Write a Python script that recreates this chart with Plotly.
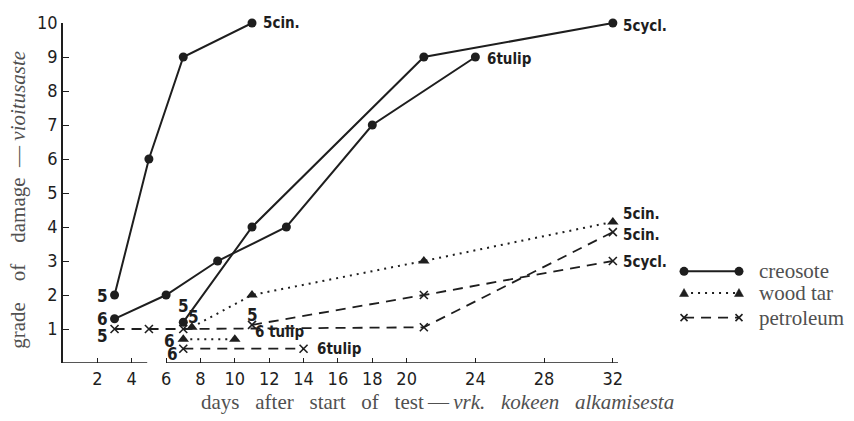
import plotly.graph_objects as go

# Days after start of test and grade of damage, per preservative and test series
creo_cin_days = [3, 5, 7, 11]
creo_cin_grade = [2, 6, 9, 10]
creo_tulip_days = [3, 6, 9, 13, 18, 24]
creo_tulip_grade = [1.3, 2, 3, 4, 7, 9]
creo_cycl_days = [7, 11, 21, 32]
creo_cycl_grade = [1.2, 4, 9, 10]

tar_cin_days = [7.5, 11, 21, 32]
tar_cin_grade = [1.05, 2, 3, 4.15]
tar_tulip_days = [7, 10]
tar_tulip_grade = [0.7, 0.7]

pet_cin_days = [3, 5, 7, 21, 32]
pet_cin_grade = [1, 1, 1, 1.05, 3.85]
pet_cycl_days = [11, 21, 32]
pet_cycl_grade = [1.12, 2, 3]
pet_tulip_days = [7, 14]
pet_tulip_grade = [0.42, 0.42]

x_ticks = [2, 4, 6, 8, 10, 12, 14, 16, 18, 20, 24, 28, 32]
y_ticks = [1, 2, 3, 4, 5, 6, 7, 8, 9, 10]
legend_names = ["creosote", "wood tar", "petroleum"]

X_MAX = 32.3
Y_MAX = 10

INK = "#1e1e1e"
TITLE_INK = "#505050"
HAND = "DejaVu Sans Condensed, DejaVu Sans, sans-serif"
SERIF = "Liberation Serif, serif"

styles = {
    "creosote": dict(line=dict(color=INK, width=2),
                     marker=dict(symbol="circle", size=9, color=INK)),
    "wood tar": dict(line=dict(color=INK, width=2, dash="2px,5px"),
                     marker=dict(symbol="triangle-up", size=10, color=INK)),
    "petroleum": dict(line=dict(color=INK, width=1.8, dash="10px,7px"),
                      marker=dict(symbol="x-thin", size=8, color=INK,
                                  line=dict(color=INK, width=1.6))),
}

series = [
    ("creosote", creo_cin_days, creo_cin_grade),
    ("creosote", creo_tulip_days, creo_tulip_grade),
    ("creosote", creo_cycl_days, creo_cycl_grade),
    ("wood tar", tar_cin_days, tar_cin_grade),
    ("wood tar", tar_tulip_days, tar_tulip_grade),
    ("petroleum", pet_cin_days, pet_cin_grade),
    ("petroleum", pet_cycl_days, pet_cycl_grade),
    ("petroleum", pet_tulip_days, pet_tulip_grade),
]

fig = go.Figure()
for kind, xs, ys in series:
    fig.add_trace(go.Scatter(x=xs, y=ys, mode="lines+markers", name=kind,
                             showlegend=False, cliponaxis=False, **styles[kind]))

annotations = []


def label(txt, x, y, size, anchor):
    # paper coordinates so that labels just past the axis end stay visible
    return dict(x=x / X_MAX, y=y / Y_MAX, xref="paper", yref="paper", text=txt,
                showarrow=False, xanchor=anchor, yanchor="middle",
                font=dict(family=HAND, size=size, color=INK, weight="bold"))


# series labels at line ends
end_labels = [
    ("5cin.", 11.55, 10.0),
    ("6tulip", 24.55, 8.95),
    ("5cycl.", 32.5, 9.9),
    ("5cin.", 32.45, 4.38),
    ("5cin.", 32.45, 3.76),
    ("5cycl.", 32.45, 2.98),
    ("6 tulip", 11.05, 0.9),
    ("6tulip", 14.65, 0.4),
]
for txt, x, y in end_labels:
    annotations.append(label(txt, x, y, 15, "left"))

# series numbers at line starts
start_labels = [
    ("5", 2.27, 1.97), ("6", 2.27, 1.3), ("5", 2.27, 0.8),
    ("5", 7.04, 1.68), ("5", 7.62, 1.36), ("6", 6.22, 0.66),
    ("6", 6.35, 0.27), ("5", 11.0, 1.4),
]
for txt, x, y in start_labels:
    annotations.append(label(txt, x, y, 17, "center"))

# axis titles
gap_y = "\u00a0" * 4
gap_x = "\u00a0" * 3
annotations.append(dict(
    x=-0.081, y=0.48, xref="paper", yref="paper", textangle=-90, showarrow=False,
    xanchor="center", yanchor="middle",
    text=f"grade{gap_y}of{gap_y}damage\u00a0\u00a0\u2014\u00a0<i>vioitusaste</i>",
    font=dict(family=SERIF, size=21, color=TITLE_INK)))
annotations.append(dict(
    x=0.674, y=-0.116, xref="paper", yref="paper", showarrow=False,
    xanchor="center", yanchor="middle",
    text=(f"days{gap_x}after{gap_x}start{gap_x}of{gap_x}test\u2009\u2014\u2009"
          f"<i>vrk.{gap_x}kokeen{gap_x}alkamisesta</i>"),
    font=dict(family=SERIF, size=21, color=TITLE_INK)))

shapes = []
# x axis line, drawn in two pieces
for x0, x1 in [(0, 4.9), (6.0, X_MAX)]:
    shapes.append(dict(type="line", xref="x", yref="y", x0=x0, x1=x1, y0=0, y1=0,
                       line=dict(color=INK, width=1.6)))

# legend block at the right
leg_x0, leg_x1 = 1.119, 1.218
leg_rows = [0.2696, 0.2058, 0.1333]
for name, yrow in zip(legend_names, leg_rows):
    st = styles[name]
    shapes.append(dict(type="line", xref="paper", yref="paper",
                       x0=leg_x0, x1=leg_x1, y0=yrow, y1=yrow,
                       line=dict(color=INK, width=st["line"]["width"],
                                 dash=st["line"].get("dash", "solid"))))
    for xa in (leg_x0, leg_x1):
        common = dict(xref="paper", yref="paper", xsizemode="pixel", ysizemode="pixel",
                      xanchor=xa, yanchor=yrow)
        if name == "creosote":
            shapes.append(dict(type="circle", x0=-4.5, x1=4.5, y0=-4.5, y1=4.5,
                               fillcolor=INK, line=dict(color=INK, width=0), **common))
        elif name == "wood tar":
            shapes.append(dict(type="path", path="M -4.5 -3.5 L 4.5 -3.5 L 0 4.5 Z",
                               fillcolor=INK, line=dict(color=INK, width=0.5), **common))
        else:
            shapes.append(dict(type="path", path="M -3.5 -3.5 L 3.5 3.5 M -3.5 3.5 L 3.5 -3.5",
                               line=dict(color=INK, width=1.6), **common))
    annotations.append(dict(x=1.2505, y=yrow, xref="paper", yref="paper", text=name,
                            showarrow=False, xanchor="left", yanchor="middle",
                            font=dict(family=SERIF, size=21, color=TITLE_INK)))

fig.update_layout(
    width=854, height=421,
    margin=dict(l=63, r=236, t=18, b=58),
    paper_bgcolor="white", plot_bgcolor="white",
    showlegend=False,
    annotations=annotations,
    shapes=shapes,
    xaxis=dict(range=[0, X_MAX], tickvals=x_ticks, ticktext=[str(v) for v in x_ticks],
               ticks="inside", ticklen=5, tickwidth=1.4, tickcolor=INK,
               showline=False, showgrid=False, zeroline=False,
               ticklabelstandoff=3,
               tickfont=dict(family=HAND, size=18, color=INK)),
    yaxis=dict(range=[0, Y_MAX], tickvals=y_ticks, ticktext=[str(v) for v in y_ticks],
               ticks="inside", ticklen=6, tickwidth=1.4, tickcolor=INK,
               showline=True, linecolor=INK, linewidth=1.6,
               showgrid=False, zeroline=False,
               tickfont=dict(family=HAND, size=18, color=INK)),
)

fig.write_html("out.html")
